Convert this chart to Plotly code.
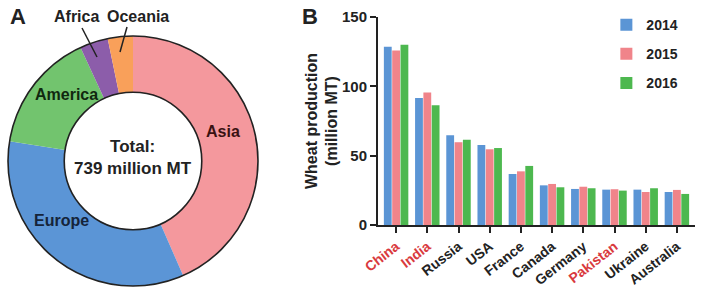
import plotly.graph_objects as go

# ---------------- data ----------------
regions = ["Asia", "Europe", "America", "Africa", "Oceania"]
region_values = [321, 252, 115, 27, 24]
region_colors = ["#F4989D", "#5B95D6", "#72C46E", "#8C5DAA", "#F9A05A"]

countries = ["China", "India", "Russia", "USA", "France", "Canada",
             "Germany", "Pakistan", "Ukraine", "Australia"]
highlight = ["China", "India", "Pakistan"]
years = ["2014", "2015", "2016"]
prod_2014 = [128.6, 91.6, 64.7, 57.7, 36.8, 28.6, 26.0, 25.5, 25.5, 23.8]
prod_2015 = [125.8, 95.5, 59.7, 54.6, 38.7, 29.6, 27.6, 25.8, 23.8, 25.3]
prod_2016 = [129.9, 86.4, 61.5, 55.5, 42.6, 27.2, 26.5, 24.8, 26.5, 22.4]
bar_colors = ["#5B95D5", "#F0848A", "#4DB84F"]
yticks = [0, 50, 100, 150]

FONT = "Arial, Liberation Sans, sans-serif"
W, H = 701, 301

fig = go.Figure()

# ---------------- panel A: donut ----------------
cx, cy, R = 133, 161, 125
pie_dom = dict(x=[(cx - R) / W, (cx + R) / W], y=[(H - cy - R) / H, (H - cy + R) / H])

fig.add_trace(go.Pie(
    labels=regions, values=region_values, hole=0.55, sort=False,
    direction="clockwise", rotation=0, textinfo="none",
    marker=dict(colors=region_colors, line=dict(width=0)),
    domain=pie_dom, showlegend=False, hoverinfo="label+value"))
# outline ring
fig.add_trace(go.Pie(
    labels=["Total"], values=[sum(region_values)], hole=0.55, sort=False,
    textinfo="none", marker=dict(colors=["rgba(0,0,0,0)"], line=dict(width=1.6, color="#222")),
    domain=pie_dom, showlegend=False, hoverinfo="skip"))

# ---------------- panel B: bars ----------------
ticktext = [f'<span style="color:#D93A3E">{c}</span>' if c in highlight else c for c in countries]
for yr, vals, col in zip(years, [prod_2014, prod_2015, prod_2016], bar_colors):
    fig.add_trace(go.Bar(x=countries, y=vals, name=yr, marker=dict(color=col, line=dict(width=0)),
                         legendgroup=yr, xaxis="x", yaxis="y"))

fig.update_layout(
    width=W, height=H, margin=dict(l=0, r=0, t=0, b=0, autoexpand=False),
    paper_bgcolor="white", plot_bgcolor="white",
    font=dict(family=FONT, color="#222", size=14),
    barmode="group", bargap=0.2, bargroupgap=0.06,
    xaxis=dict(domain=[378 / W, 695 / W], range=[-0.58, 9.58], automargin=False,
               tickmode="array", tickvals=countries, ticktext=ticktext,
               tickangle=-38, ticks="outside", ticklen=6, tickwidth=2, tickcolor="#222",
               showline=True, linewidth=2, linecolor="#222", showgrid=False, zeroline=False,
               tickfont=dict(size=14, family=FONT, color="#222", weight="bold"), anchor="y"),
    yaxis=dict(domain=[(H - 225) / H, (H - 17) / H], range=[0, 150], automargin=False,
               tickvals=yticks, ticks="outside", ticklen=6, tickwidth=2, tickcolor="#222",
               showline=True, linewidth=2, linecolor="#222", showgrid=False, zeroline=False,
               tickfont=dict(size=15, family=FONT, color="#222", weight="bold"),
               title=dict(text="Wheat production<br>(million MT)", standoff=0,
                          font=dict(size=16, family=FONT, color="#222", weight="bold")),
               anchor="x"),
    legend=dict(x=0.865, y=0.97, xanchor="left", yanchor="top", tracegroupgap=8,
                font=dict(size=14, family=FONT, color="#222", weight="bold"),
                bgcolor="rgba(0,0,0,0)", itemwidth=30),
)

ann = []
# panel letters
ann.append(dict(text="<b>A</b>", x=8 / W, y=1 - 16 / H, xref="paper", yref="paper",
                xanchor="left", yanchor="middle", showarrow=False, font=dict(size=22)))
ann.append(dict(text="<b>B</b>", x=300 / W, y=1 - 16 / H, xref="paper", yref="paper",
                xanchor="left", yanchor="middle", showarrow=False, font=dict(size=22)))
# donut center text
ann.append(dict(text="<b>Total:<br>739 million MT</b>", x=cx / W, y=1 - 157 / H, xref="paper", yref="paper",
                xanchor="center", yanchor="middle",
                showarrow=False, font=dict(size=17, color="#222")))
# region labels
label_pos = {"Asia": (223, 131, "#3a1212"), "Europe": (61, 220, "#15243a"), "America": (66, 95, "#10280f"),
             "Africa": (76, 16, "#222"), "Oceania": (138, 16, "#222")}
for r in regions:
    px, py, c = label_pos[r]
    ann.append(dict(text=f"<b>{r}</b>", x=px / W, y=1 - py / H, xref="paper", yref="paper",
                    xanchor="center", yanchor="middle",
                    showarrow=False, font=dict(size=16, color=c)))
fig.update_layout(annotations=ann)

# leader lines
fig.add_shape(type="line", xref="paper", yref="paper", x0=82 / W, y0=1 - 28 / H, x1=97 / W, y1=1 - 57 / H,
              line=dict(color="#222", width=1.5))
fig.add_shape(type="line", xref="paper", yref="paper", x0=127 / W, y0=1 - 27 / H, x1=120 / W, y1=1 - 52 / H,
              line=dict(color="#222", width=1.5))

fig.write_html("out.html", post_script="document.body.style.margin='0';",
               config={"displayModeBar": False})
